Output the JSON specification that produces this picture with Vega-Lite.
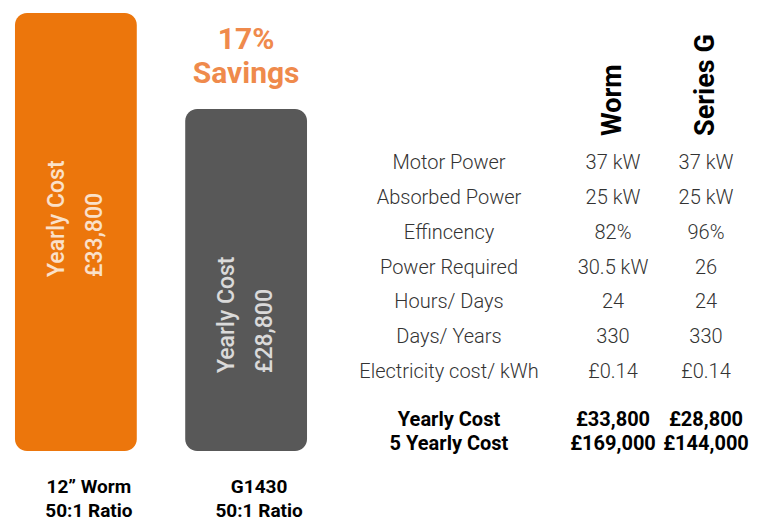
{
  "$schema": "https://vega.github.io/schema/vega-lite/v6.json",
  "padding": 0,
  "background": "white",
  "spacing": 0,
  "bounds": "flush",
  "config": {
    "view": {"stroke": null},
    "font": "Roboto",
    "locale": {"number": {"decimal": ".", "thousands": ",", "grouping": [3], "currency": ["£", ""]}}
  },
  "datasets": {
    "bars": [
      {"product": "12” Worm", "ratio": "50:1 Ratio", "cost": 33800, "savings": ""},
      {"product": "G1430", "ratio": "50:1 Ratio", "cost": 28800, "savings": "17%"}
    ],
    "columns": [
      {"key": "worm", "name": "Worm"},
      {"key": "seriesG", "name": "Series G"}
    ],
    "table": [
      {"param": "Motor Power", "worm": "37 kW", "seriesG": "37 kW", "group": "spec"},
      {"param": "Absorbed Power", "worm": "25 kW", "seriesG": "25 kW", "group": "spec"},
      {"param": "Effincency", "worm": "82%", "seriesG": "96%", "group": "spec"},
      {"param": "Power Required", "worm": "30.5 kW", "seriesG": "26", "group": "spec"},
      {"param": "Hours/ Days", "worm": "24", "seriesG": "24", "group": "spec"},
      {"param": "Days/ Years", "worm": "330", "seriesG": "330", "group": "spec"},
      {"param": "Electricity cost/ kWh", "worm": "£0.14", "seriesG": "£0.14", "group": "spec"},
      {"param": "Yearly Cost", "worm": "£33,800", "seriesG": "£28,800", "group": "total"},
      {"param": "5 Yearly Cost", "worm": "£169,000", "seriesG": "£144,000", "group": "total"}
    ]
  },
  "hconcat": [
    {
      "width": 322,
      "height": 522,
      "data": {"name": "bars"},
      "encoding": {
        "x": {"field": "product", "type": "nominal", "sort": null, "axis": null,
              "scale": {"type": "band", "paddingInner": 0.2845, "paddingOuter": 0.088}},
        "y": {"field": "cost", "type": "quantitative", "axis": null,
              "scale": {"domain": [7304, 34477], "zero": false, "nice": false}}
      },
      "layer": [
        {
          "mark": {"type": "bar", "cornerRadius": 12},
          "encoding": {
            "y2": {"datum": 11000},
            "color": {"field": "product", "type": "nominal", "sort": null, "legend": null,
                      "scale": {"range": ["#EC760C", "#585858"]}}
          }
        },
        {
          "mark": {"type": "text", "angle": 270, "align": "left", "baseline": "middle", "dx": -264, "dy": -19,
                   "fontSize": 23, "fontWeight": 500, "fill": "white", "opacity": 0.78},
          "encoding": {"text": {"value": "Yearly Cost"}}
        },
        {
          "mark": {"type": "text", "angle": 270, "align": "left", "baseline": "middle", "dx": -264, "dy": 19,
                   "fontSize": 23, "fontWeight": 500, "fill": "white", "opacity": 0.78},
          "encoding": {"text": {"field": "cost", "type": "quantitative", "format": "$,.0f"}}
        },
        {
          "transform": [{"filter": "datum.savings != ''"}],
          "mark": {"type": "text", "fontSize": 30, "fontWeight": "bold", "fill": "#EF8A4C", "baseline": "middle", "dy": -69},
          "encoding": {"text": {"field": "savings"}}
        },
        {
          "transform": [{"filter": "datum.savings != ''"}],
          "mark": {"type": "text", "fontSize": 30, "fontWeight": "bold", "fill": "#EF8A4C", "baseline": "middle", "dy": -35},
          "encoding": {"text": {"value": "Savings"}}
        },
        {
          "mark": {"type": "text", "fontSize": 19, "fontWeight": "bold", "fill": "black", "baseline": "middle", "dx": 13, "dy": 36},
          "encoding": {"y": {"datum": 11000}, "text": {"field": "product"}}
        },
        {
          "mark": {"type": "text", "fontSize": 19, "fontWeight": "bold", "fill": "black", "baseline": "middle", "dx": 13, "dy": 60},
          "encoding": {"y": {"datum": 11000}, "text": {"field": "ratio"}}
        }
      ]
    },
    {
      "width": 254,
      "height": 522,
      "data": {"name": "table"},
      "layer": [
        {
          "transform": [{"filter": "datum.group == 'spec'"}],
          "mark": {"type": "text", "fontSize": 20, "fontWeight": 300, "fill": "#333333", "baseline": "middle"},
          "encoding": {
            "y": {"field": "param", "type": "nominal", "sort": null, "axis": null,
                  "scale": {"type": "point", "padding": 0, "range": [163, 372]}},
            "text": {"field": "param"}
          }
        },
        {
          "transform": [{"filter": "datum.group == 'total'"}],
          "mark": {"type": "text", "fontSize": 20, "fontWeight": "bold", "fill": "black", "baseline": "middle"},
          "encoding": {
            "y": {"field": "param", "type": "nominal", "sort": null, "axis": null,
                  "scale": {"type": "point", "padding": 0, "range": [420, 444]}},
            "text": {"field": "param"}
          }
        }
      ],
      "resolve": {"scale": {"y": "independent"}}
    },
    {
      "width": 74,
      "height": 522,
      "data": {"name": "table"},
      "layer": [
        {
          "data": {"name": "columns"},
          "transform": [{"filter": "datum.key == 'worm'"}],
          "mark": {"type": "text", "angle": 270, "align": "left", "baseline": "middle", "fontSize": 27, "fontWeight": "bold", "fill": "black"},
          "encoding": {
            "y": {"field": "name", "type": "nominal", "axis": null, "scale": {"type": "point", "align": 0.2605}},
            "text": {"field": "name"}
          }
        },
        {
          "transform": [{"filter": "datum.group == 'spec'"}],
          "mark": {"type": "text", "fontSize": 20, "fontWeight": 300, "fill": "#333333", "baseline": "middle"},
          "encoding": {
            "y": {"field": "param", "type": "nominal", "sort": null, "axis": null,
                  "scale": {"type": "point", "padding": 0, "range": [163, 372]}},
            "text": {"field": "worm"}
          }
        },
        {
          "transform": [{"filter": "datum.group == 'total'"}],
          "mark": {"type": "text", "fontSize": 20, "fontWeight": "bold", "fill": "black", "baseline": "middle"},
          "encoding": {
            "y": {"field": "param", "type": "nominal", "sort": null, "axis": null,
                  "scale": {"type": "point", "padding": 0, "range": [420, 444]}},
            "text": {"field": "worm"}
          }
        }
      ],
      "resolve": {"scale": {"y": "independent"}}
    },
    {
      "width": 112,
      "height": 522,
      "data": {"name": "table"},
      "layer": [
        {
          "data": {"name": "columns"},
          "transform": [{"filter": "datum.key == 'seriesG'"}],
          "mark": {"type": "text", "angle": 270, "align": "left", "baseline": "middle", "fontSize": 27, "fontWeight": "bold", "fill": "black"},
          "encoding": {
            "y": {"field": "name", "type": "nominal", "axis": null, "scale": {"type": "point", "align": 0.2605}},
            "text": {"field": "name"}
          }
        },
        {
          "transform": [{"filter": "datum.group == 'spec'"}],
          "mark": {"type": "text", "fontSize": 20, "fontWeight": 300, "fill": "#333333", "baseline": "middle"},
          "encoding": {
            "y": {"field": "param", "type": "nominal", "sort": null, "axis": null,
                  "scale": {"type": "point", "padding": 0, "range": [163, 372]}},
            "text": {"field": "seriesG"}
          }
        },
        {
          "transform": [{"filter": "datum.group == 'total'"}],
          "mark": {"type": "text", "fontSize": 20, "fontWeight": "bold", "fill": "black", "baseline": "middle"},
          "encoding": {
            "y": {"field": "param", "type": "nominal", "sort": null, "axis": null,
                  "scale": {"type": "point", "padding": 0, "range": [420, 444]}},
            "text": {"field": "seriesG"}
          }
        }
      ],
      "resolve": {"scale": {"y": "independent"}}
    }
  ]
}
